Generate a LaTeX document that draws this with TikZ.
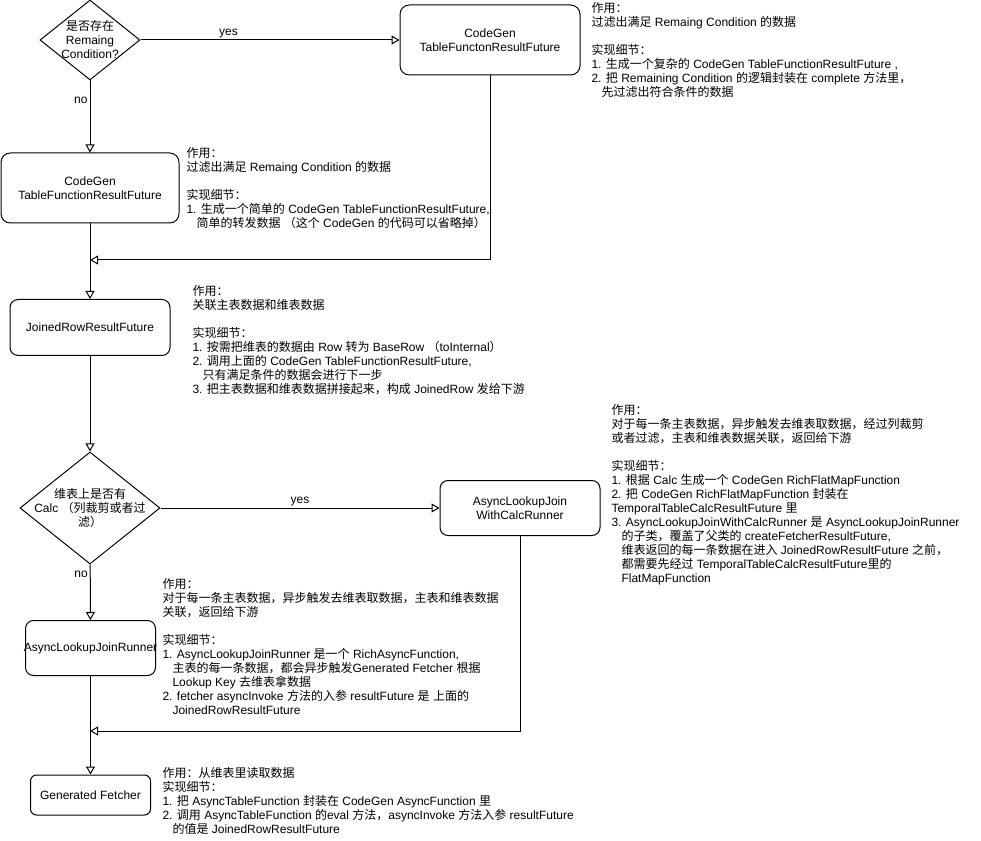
\documentclass[tikz,border=0pt]{standalone}
\usepackage{fontspec}
\setmainfont{Liberation Sans}
\newfontfamily\latinfont{Liberation Sans}
\newfontfamily\cjkfont{Noto Sans CJK SC}
\usetikzlibrary{shapes.geometric,arrows.meta}

% switch to the CJK font for Chinese characters and back
\XeTeXinterchartokenstate=1
\newcount\hanchar
\hanchar="3000 \loop\XeTeXcharclass\hanchar=7 \advance\hanchar by 1 \ifnum\hanchar<"3040 \repeat
\hanchar="4E00 \loop\XeTeXcharclass\hanchar=7 \advance\hanchar by 1 \ifnum\hanchar<"A000 \repeat
\hanchar="FF00 \loop\XeTeXcharclass\hanchar=7 \advance\hanchar by 1 \ifnum\hanchar<"FFF0 \repeat
\XeTeXinterchartoks 0 7 = {\cjkfont}
\XeTeXinterchartoks 4095 7 = {\cjkfont}
\XeTeXinterchartoks 7 0 = {\latinfont}
\XeTeXinterchartoks 7 4095 = {\latinfont}

\newcommand\ind{\hspace*{7.5pt}}

\begin{document}
\begin{tikzpicture}[x=0.75pt,y=-0.75pt,line width=0.75pt,
every node/.style={font=\fontsize{9}{10.5}\selectfont},
stage/.style={draw,rounded corners=7pt,align=center,inner sep=0pt},
cond/.style={draw,diamond,inner sep=0pt},
note/.style={anchor=north west,align=left,inner sep=0pt},
flow/.style={-{Triangle[open,length=6pt,width=6.75pt]}}]
\useasboundingbox (0,0) rectangle (981,841);

\node[cond,minimum width=75pt,minimum height=60pt,
label={[align=center,inner sep=0pt]center:{是否存在\\Remaing\\Condition?}}] (hasrc) at (90,40) {};
\node[stage,minimum width=135pt,minimum height=52.5pt] (cgcomplex) at (490,40)
{CodeGen\\TableFunctonResultFuture};
\node[stage,minimum width=133.5pt,minimum height=52.5pt] (cgsimple) at (90,188)
{CodeGen\\TableFunctionResultFuture};
\node[stage,minimum width=120pt,minimum height=42pt,rounded corners=6pt] (joined) at (90,327.5)
{JoinedRowResultFuture};
\node[cond,minimum width=105pt,minimum height=84pt,
label={[align=center,inner sep=0pt]center:{维表上是否有\\Calc （列裁剪或者过\\滤）}}] (hascalc) at (90,508) {};
\node[stage,minimum width=120pt,minimum height=41.25pt,rounded corners=6pt] (calcrunner) at (520,508)
{AsyncLookupJoin\\WithCalcRunner};
\node[stage,minimum width=97.5pt,minimum height=41.25pt,rounded corners=6pt] (runner) at (90.5,648)
{\makebox[0pt]{AsyncLookupJoinRunner}};
\node[stage,minimum width=90pt,minimum height=30pt,rounded corners=4.5pt] (fetcher) at (90.5,795)
{Generated Fetcher};

\coordinate (merge1) at (90,260);
\coordinate (merge2) at (90,731);

\draw[flow] (hasrc) -- node[pos=0.34,above,inner sep=1.5pt] {yes} (cgcomplex);
\draw[flow] (hasrc) -- node[pos=0.27,left,inner sep=1.5pt] {no} (cgsimple);
\draw[flow] (cgcomplex) |- (merge1);
\draw[flow] (cgsimple) -- (joined);
\draw[flow] (joined) -- (hascalc);
\draw[flow] (hascalc) -- node[above,inner sep=1.5pt] {yes} (calcrunner);
\draw[flow] (hascalc) -- node[pos=0.18,left,inner sep=1.5pt] {no} (runner);
\draw[flow] (calcrunner) |- (merge2);
\draw[flow] (runner) -- (fetcher);

% notes
\node[note] (cgcomplexnote) at (591,2) {作用：\\过滤出满足 Remaing Condition 的数据\\[10.5pt]
实现细节：\\1. 生成一个复杂的 CodeGen TableFunctionResultFuture ,\\
2. 把 Remaining Condition 的逻辑封装在 complete 方法里，\\\ind 先过滤出符合条件的数据};
\node[note] (cgsimplenote) at (186,147) {作用：\\过滤出满足 Remaing Condition 的数据\\[10.5pt]
实现细节：\\1. 生成一个简单的 CodeGen TableFunctionResultFuture,\\
\ind 简单的转发数据 （这个 CodeGen 的代码可以省略掉）};
\node[note] (joinednote) at (192,285) {作用：\\关联主表数据和维表数据\\[10.5pt]
实现细节：\\1. 按需把维表的数据由 Row 转为 BaseRow （toInternal）\\
2. 调用上面的 CodeGen TableFunctionResultFuture,\\\ind 只有满足条件的数据会进行下一步\\
3. 把主表数据和维表数据拼接起来，构成 JoinedRow 发给下游};
\node[note] (calcrunnernote) at (611,404) {作用：\\对于每一条主表数据，异步触发去维表取数据，经过列裁剪\\
或者过滤，主表和维表数据关联，返回给下游\\[10.5pt]
实现细节：\\1. 根据 Calc 生成一个 CodeGen RichFlatMapFunction\\
2. 把 CodeGen RichFlatMapFunction 封装在\\TemporalTableCalcResultFuture 里\\
3. AsyncLookupJoinWithCalcRunner 是 AsyncLookupJoinRunner\\
\ind 的子类，覆盖了父类的 createFetcherResultFuture,\\
\ind 维表返回的每一条数据在进入 JoinedRowResultFuture 之前，\\
\ind 都需要先经过 TemporalTableCalcResultFuture里的\\\ind FlatMapFunction};
\node[note] (runnernote) at (162,578) {作用：\\对于每一条主表数据，异步触发去维表取数据，主表和维表数据\\
关联，返回给下游\\[10.5pt]
实现细节：\\1. AsyncLookupJoinRunner 是一个 RichAsyncFunction,\\
\ind 主表的每一条数据，都会异步触发Generated Fetcher 根据\\
\ind Lookup Key 去维表拿数据\\
2. fetcher asyncInvoke 方法的入参 resultFuture 是 上面的\\\ind JoinedRowResultFuture};
\node[note] (fetchernote) at (162,767) {作用：从维表里读取数据\\实现细节：\\
1. 把 AsyncTableFunction 封装在 CodeGen AsyncFunction 里\\
2. 调用 AsyncTableFunction 的eval 方法，asyncInvoke 方法入参 resultFuture\\
\ind 的值是 JoinedRowResultFuture};
\end{tikzpicture}
\end{document}
